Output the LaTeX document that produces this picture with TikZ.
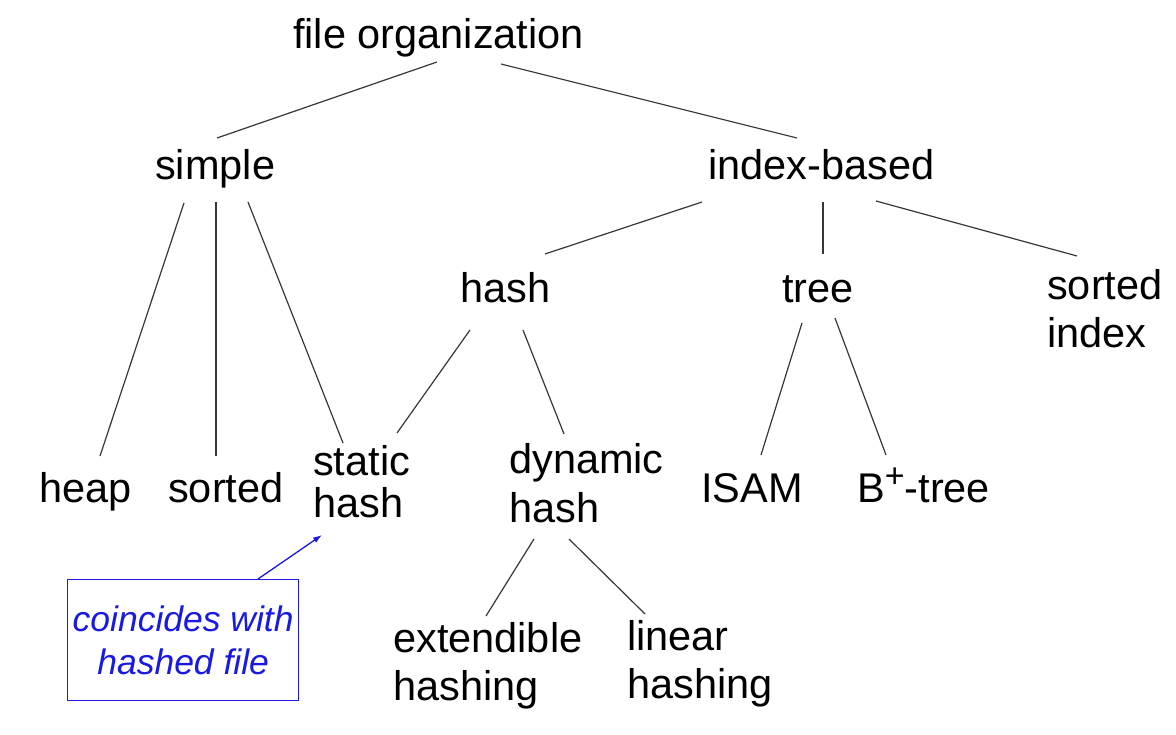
\documentclass[tikz,border=0pt]{standalone}
\usepackage{fontspec}
\setmainfont{Liberation Sans}
\usetikzlibrary{arrows.meta}
\definecolor{noteblue}{RGB}{25,25,225}
\definecolor{edgegray}{RGB}{55,55,55}
\newcommand{\twolines}[2]{\begin{tabular}[t]{@{}l@{}}#1\\#2\end{tabular}}
\begin{document}
\begin{tikzpicture}[x=1pt,y=-1pt,
  lbl/.style={anchor=base west, inner sep=0pt, font=\fontsize{41.5}{48}\selectfont},
  edge/.style={draw=edgegray, line width=1.2pt},
  notebox/.style={draw=noteblue, line width=1.3pt, text=noteblue,
    font=\fontsize{35.5}{43}\selectfont\itshape, align=center,
    minimum width=231pt, minimum height=121pt, inner sep=0pt, anchor=north west},
  notearrow/.style={draw=noteblue, line width=1.3pt, -{Latex[length=9pt,width=6pt]}}]
\useasboundingbox[fill=white] (0,0) rectangle (1176,735);

% nodes (anchor at left end of first baseline)
\node[lbl] (fo)     at (293,49)  {file organization};
\node[lbl] (simple) at (155,180) {simple};
\node[lbl] (index)  at (708,180) {index-based};
\node[lbl] (hash)   at (460,303) {hash};
\node[lbl] (tree)   at (782,303) {tree};
\node[lbl] (sidx)   at (1047,300) {\twolines{sorted}{index}};
\node[lbl] (heap)   at (39,502)  {heap};
\node[lbl] (sorted) at (168,502) {sorted};
\node[lbl, font=\fontsize{41.5}{43}\selectfont] (sh) at (313,475) {\twolines{static}{hash}};
\node[lbl, font=\fontsize{41.5}{49}\selectfont] (dh) at (509,473) {\twolines{dynamic}{hash}};
\node[lbl] (isam)   at (701,502) {ISAM};
\node[lbl] (btree)  at (857,502) {B\raisebox{15pt}{\fontsize{34}{34}\selectfont +}-tree};
\node[lbl] (ext)    at (393,652) {\twolines{extendible}{hashing}};
\node[lbl] (lin)    at (627,650) {\twolines{linear}{hashing}};
\node[notebox] (note) at (67,579) {coincides with\\hashed file};

% connectors
\draw[edge] ([shift={(144,13)}]fo.base west) -- ([shift={(62,-42)}]simple.base west);
\draw[edge] ([shift={(208,15)}]fo.base west) -- ([shift={(89,-42)}]index.base west);
\draw[edge] ([shift={(29,23)}]simple.base west) -- ([shift={(61,-46)}]heap.base west);
\draw[edge] ([shift={(61,22)}]simple.base west) -- ([shift={(48,-46)}]sorted.base west);
\draw[edge] ([shift={(93,22)}]simple.base west) -- ([shift={(30,-32)}]sh.base west);
\draw[edge] ([shift={(-6,22)}]index.base west) -- ([shift={(85,-49)}]hash.base west);
\draw[edge] ([shift={(115,22)}]index.base west) -- ([shift={(41,-49)}]tree.base west);
\draw[edge] ([shift={(168,21)}]index.base west) -- ([shift={(30,-44)}]sidx.base west);
\draw[edge] ([shift={(10,27)}]hash.base west) -- ([shift={(84,-42)}]sh.base west);
\draw[edge] ([shift={(63,27)}]hash.base west) -- ([shift={(55,-39)}]dh.base west);
\draw[edge] ([shift={(20,20)}]tree.base west) -- ([shift={(60,-47)}]isam.base west);
\draw[edge] ([shift={(53,15)}]tree.base west) -- ([shift={(29,-47)}]btree.base west);
\draw[edge] ([shift={(25,66)}]dh.base west) -- ([shift={(93,-36)}]ext.base west);
\draw[edge] ([shift={(60,66)}]dh.base west) -- ([shift={(18,-36)}]lin.base west);
\draw[notearrow] ([shift={(191,0)}]note.north west) -- ([shift={(9,60)}]sh.base west);
\end{tikzpicture}
\end{document}
